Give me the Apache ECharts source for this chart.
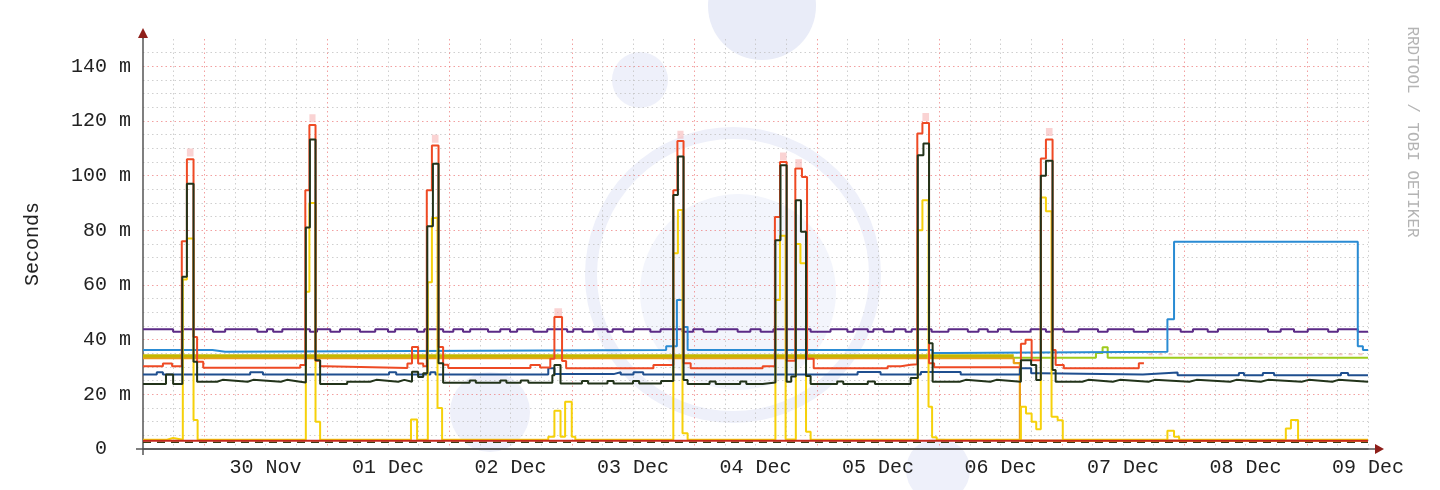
<!DOCTYPE html>
<html><head><meta charset="utf-8">
<script src="https://cdn.jsdelivr.net/npm/echarts@6/dist/echarts.min.js"></script>
<style>html,body{margin:0;padding:0;background:#fff}#c{width:1440px;height:490px}</style>
</head><body><div id="c"></div>
<script>
// x = hours since 29 Nov 12:00 ; y = milliseconds (m)
const dayLabels = ['30 Nov','01 Dec','02 Dec','03 Dec','04 Dec','05 Dec','06 Dec','07 Dec','08 Dec','09 Dec'];
const yTicks = [0,20,40,60,80,100,120,140];

const purple = [[0,43.8],[5.9,42.9],[7.8,43.8],[13.7,42.9],[16.1,43.8],[22.4,42.9],[24.3,43.8],[25.5,42.9],[27.3,43.8],[32.7,42.9],[34.1,43.8],[36.7,42.9],[38.6,43.8],[42.5,42.9],[45.5,43.8],
[48.0,42.9],[49.4,43.8],[53.7,42.9],[55.1,43.8],[58.8,42.9],[60.8,43.8],[62.7,42.9],[64.1,43.8],
[67.6,42.9],[70.0,43.8],[71.9,42.9],[73.3,43.8],[76.5,42.9],[79.2,43.8],[83.1,42.9],[84.3,43.8],[86.1,42.9],[88.2,43.8],[91.0,42.9],[92.0,43.8],[94.1,42.9],[96.1,43.8],[99.4,42.9],[101.4,43.8],
[105.7,42.9],[107.8,43.8],[109.8,42.9],[112.5,43.8],[116.5,42.9],[119.0,43.8],[121.0,42.9],[123.5,43.8],[130.8,42.9],[134.7,43.8],[138.0,42.9],[139.2,43.8],[142.0,42.9],[143.1,43.8],[145.1,42.9],[147.1,43.8],
[149.4,42.9],[150.6,43.8],[154.5,42.9],[157.8,43.8],[161.6,42.9],[163.7,43.8],[165.5,42.9],[167.5,43.8],[170.0,42.9],[173.9,43.8],[176.9,42.9],[178.2,43.8],[180.4,42.9],[183.3,43.8],[187.1,42.9],[189.0,43.8],
[194.1,42.9],[196.9,43.8],[203.3,42.9],[205.7,43.8],[208.6,42.9],[210.6,43.8],[220.4,42.9],[222.9,43.8],[225.5,42.9],[228.2,43.8],[232.2,42.9],[234.1,43.8],[238.0,42.9],[240,42.9]];

const lightBlue = [[0,36.2],[13.6,35.6],[16.1,36.2],[102.5,37.6],[104.6,54.5],[105.8,44.6],[106.7,36.2],[154.7,35.1],[158.2,35.6],[200.7,47.5],[202.0,75.8],[238.0,37.6],[239.0,36.2],[240,36.2]];

const olive = [[0,34.1],[170.6,34.1],[170.7,null]];
const orange = [[0,33.2],[170.6,31.4],[171.8,3.1],[240,3.1]];
const lime = [[0,33.4],[186.7,35.1],[188.0,37.2],[189.0,33.4],[240,33.4]];

const red = [[0,30.3],[3.9,31.3],[5.7,30.3],[7.6,76],[8.6,106],[9.9,41],[10.6,31.9],[11.8,29.7],[30.8,30.7],[31.8,94.7],[32.6,118.5],[33.8,32.3],[34.7,30.3],[35.7,29.6],
[51.8,31.3],[52.7,37.3],[53.9,31.3],[54.9,30.3],[55.6,94.7],[56.6,111],[57.9,37.3],[58.8,30.8],[59.8,29.6],
[75.9,30.7],[77.8,29.8],[79.8,33],[80.6,48.3],[82.1,32.2],[82.9,29.5],
[100,30.7],[103.9,94.7],[104.7,112.7],[105.9,31.4],[107.3,29.5],
[121.4,30.3],[123.8,84.9],[124.8,105],[126.1,32.3],[127.8,102.6],[129.1,99.5],[130.1,33],[131.4,29.5],
[145.9,30.3],[148.5,30.8],[150.4,31],[151.7,115.4],[152.7,119.3],[154,31.4],[155,29.9],
[172,38.5],[172.9,40],[174.1,32.5],[175.9,106.3],[176.9,113.2],[178.2,36.2],[178.8,30.7],[180.4,29.5],
[195.1,31.4],[196.1,31.4],[196.2,null]];

const darkBlue = [[0,27.3],[2.7,28.1],[3.9,27.3],[21,28.1],[23.5,27.3],[48.2,28.1],[49.6,27.3],[56.3,28.1],[57.3,27.3],[79.4,29.5],[80.6,27.4],[92.2,28.1],[93.6,27.3],[96.1,28.1],[98.0,27.3],
[140,28.2],[144.5,27.3],[152.4,28.2],[160.2,27.3],[171.8,29.5],[174,27.7],[175.9,27.3],[195.9,28],[202.7,27],[214.7,27.8],[215.7,27],[219.4,27.8],[221.6,27],[234.7,27.8],[236.1,27],[240,27]];

const darkGreen = [[0,23.8],[4.5,27.3],[5.9,23.8],[7.7,63],[8.6,97],[9.9,31.9],[10.6,24.6],[14.5,25.3],[15.6,24.6],[20.5,25.3],[21.6,24.6],[27,25.3],[28.2,24.6],[30.8,24.3],
[31.9,81],[32.7,113.2],[33.8,32.5],[34.7,23.8],[40,24.6],[44.5,25.3],[45.7,24.6],[50,25.3],[51.2,24.6],[52.7,28.3],[53.9,26.3],[54.9,27.7],
[55.7,81.5],[56.8,104.4],[57.9,31.4],[58.8,24.2],[64,25.1],[65.2,24.2],[70,25.1],[71.2,24.2],[74,25.1],[75.5,24.2],
[80.2,27],[80.6,30.7],[81.8,24],[86,24.9],[87.2,24],[91,24.9],[92.2,24],[96,24.9],[97.2,24],[101.5,24.9],
[103.9,92.9],[104.8,107],[105.9,25.2],[106.7,23.8],[111,24.7],[112.2,23.8],[117,24.7],[118.2,23.8],[121.4,24.3],
[123.9,76.4],[124.9,103.8],[126.1,24.6],[127,26.5],[127.9,91],[128.9,79.5],[129.9,26.7],[130.8,23.8],[136,24.7],[137.2,23.8],[142,24.7],[143.4,23.8],[150.4,26],
[151.8,107.5],[152.9,111.8],[154,38.7],[154.7,24.6],[160,25.3],[161.2,24.6],[166,25.3],[167.2,24.6],
[172,32.5],[174,30.7],[175,25.2],[175.9,100],[176.9,105.5],[178.2,28.9],[178.8,24.6],[184,25.3],[185.2,24.6],[190,25.3],[191.4,24.6],[197,25.3],[198.2,24.6],[205,25.3],[206.4,24.6],[213,25.3],[214.2,24.6],[219,25.3],[220.4,24.6],[227,25.3],[228.4,24.6],[233,25.3],[234.2,24.6],[240,24.6]];

const yellow = [[0,3.4],[4.7,4.0],[5.9,3.4],[7.8,62],[8.6,77],[9.9,10.6],[10.7,3.4],
[31.9,57.5],[32.6,90],[33.8,10],[34.7,3.4],
[52.5,10.8],[53.7,3.4],[55.8,61],[56.6,84.5],[57.7,15],[58.6,3.4],
[79.4,4.5],[80.6,14],[81.8,4.5],[82.7,17.3],[84.0,4.5],[84.7,3.4],
[103.9,71.6],[104.8,87.4],[105.7,5.8],[106.7,3.4],
[123.9,54.5],[124.8,78],[125.9,3.5],[127.9,75],[128.8,68],[129.9,6.3],[130.8,3.4],
[151.8,80],[152.7,91],[153.9,15.5],[154.6,4.3],[155.5,3.4],
[172,15.5],[173,13],[174.1,10],[175,7.2],[175.9,92],[176.9,87],[178,11.8],[179.2,10.5],[180.2,3.4],
[200.7,6.7],[202,4.5],[203,3.4],[223.9,7.5],[224.9,10.6],[226.3,3.4],[240,3.4]];

const bottomRed = [[0,3.0],[240,3.0]];
const bottomDark = [[0,2.5],[240,2.5]];

const smokeTop = [[8.6,108.5],[9.9,108.5],[9.95,null],[32.6,121],[33.8,121],[33.85,null],[56.6,113.5],[57.9,113.5],[57.95,null],[80.6,50],[82.1,50],[82.15,null],
[104.7,115],[105.9,115],[105.95,null],[124.8,107],[126.1,107],[126.15,null],[127.8,104.5],[129.1,104.5],[129.15,null],[152.7,121.5],[154,121.5],[154.05,null],[176.9,116],[178.2,116],[178.25,null]];
const smokeRight = [[197,34.7],[240,34.7]];

const FONT = 'Liberation Mono';
const GREY = 'rgba(195,195,195,0.8)';
const RED = 'rgba(236,120,120,0.7)';

function ln(data, color, width, z, extra) {
  return Object.assign({type:'line', data, step:'end', showSymbol:false, symbol:'none', silent:true,
    lineStyle:{color, width}, z}, extra || {});
}

const chart = echarts.init(document.getElementById('c'), null, {renderer:'canvas'});
chart.setOption({
  animation:false,
  backgroundColor:'#ffffff',
  grid:{left:143, right:72, top:39, bottom:41, containLabel:false},
  xAxis:{type:'value', min:0, max:240, interval:6,
    axisLine:{show:true, onZero:false, lineStyle:{color:'#555', width:1.5}},
    axisTick:{show:false},
    axisLabel:{color:'#222', fontFamily:FONT, fontSize:20, margin:9, showMaxLabel:true, showMinLabel:true,
      formatter:v => (v % 24 === 0 && v > 0) ? dayLabels[v/24 - 1] : ''},
    splitLine:{show:true, showMinLine:false, lineStyle:{color:[GREY,RED,GREY,GREY], width:1, type:[1.5,3]}}
  },
  yAxis:{type:'value', min:0, max:150, interval:5,
    axisLine:{show:true, lineStyle:{color:'#555', width:1.5}},
    axisTick:{show:false},
    axisLabel:{color:'#222', fontFamily:FONT, fontSize:20, margin:12,
      formatter:v => yTicks.indexOf(v) < 0 ? '' : (v === 0 ? '0  ' : v + ' m')},
    splitLine:{show:true, showMinLine:false, showMaxLine:false, lineStyle:{color:[GREY,GREY,GREY,RED], width:1, type:[1.5,3]}},
    name:'Seconds', nameLocation:'middle', nameGap:100,
    nameTextStyle:{fontFamily:FONT, fontSize:20, color:'#222'}
  },
  series:[
    ln(smokeTop, 'rgba(246,175,175,0.55)', 8, 1),
    ln(smokeRight, 'rgba(232,150,140,0.5)', 2, 1, {lineStyle:{color:'rgba(232,150,140,0.5)', width:2, type:[4,6]}}),
    ln(bottomDark, '#3e3a14', 1.5, 2, {lineStyle:{color:'#3e3a14', width:1.5, type:[8,6]}}),
    ln(lime, '#9ecb1c', 2, 3),
    ln(orange, '#eaa019', 2.2, 4),
    ln(olive, '#c4b800', 3, 5),
    ln(purple, '#5b2a86', 2, 6),
    ln(lightBlue, '#2a8bd3', 2, 7),
    ln(darkBlue, '#1f4f8f', 2, 8),
    ln(yellow, '#f6d10a', 2, 9),
    ln(bottomRed, '#c2261d', 2, 10),
    ln(red, '#ee4a24', 2, 11),
    ln(darkGreen, '#22331a', 2, 12)
  ]
});

const pTL = chart.convertToPixel({gridIndex:0}, [0,150]);
const pBR = chart.convertToPixel({gridIndex:0}, [240,0]);
const ax = pTL[0], ay = pTL[1], bx = pBR[0], by = pBR[1];
const WM = '#e9ecf8';
chart.setOption({graphic:[
  {type:'circle', z:-100, shape:{cx:762, cy:6, r:54}, style:{fill:WM}},
  {type:'circle', z:-100, shape:{cx:640, cy:80, r:28}, style:{fill:'#eef0fa'}},
  {type:'circle', z:-100, shape:{cx:733, cy:275, r:142}, style:{fill:'none', stroke:'#eef0fa', lineWidth:12}},
  {type:'circle', z:-100, shape:{cx:738, cy:292, r:98}, style:{fill:'#f3f5fc'}},
  {type:'circle', z:-100, shape:{cx:490, cy:412, r:40}, style:{fill:'#eef0fa'}},
  {type:'circle', z:-100, shape:{cx:938, cy:470, r:32}, style:{fill:'#eef0fa'}},
  {type:'line', z:50, shape:{x1:ax, y1:ay, x2:ax, y2:ay-2}, style:{stroke:'#555', lineWidth:1.5}},
  {type:'line', z:50, shape:{x1:ax, y1:by, x2:ax, y2:by+6}, style:{stroke:'#555', lineWidth:1.5}},
  {type:'line', z:50, shape:{x1:ax-7, y1:by, x2:bx+7, y2:by}, style:{stroke:'#555', lineWidth:1.5}},
  {type:'polygon', z:51, shape:{points:[[ax-5,ay-1],[ax+5,ay-1],[ax,ay-11]]}, style:{fill:'#8e1f1a'}},
  {type:'polygon', z:51, shape:{points:[[bx+7,by-5],[bx+7,by+5],[bx+16,by]]}, style:{fill:'#8e1f1a'}},
  {type:'text', z:50, x:1412, y:132, rotation:-Math.PI/2,
    style:{text:'RRDTOOL / TOBI OETIKER', fill:'#b4b4b4', font:'16px "Liberation Mono"', align:'center', verticalAlign:'middle'}}
]});
</script>
</body></html>
